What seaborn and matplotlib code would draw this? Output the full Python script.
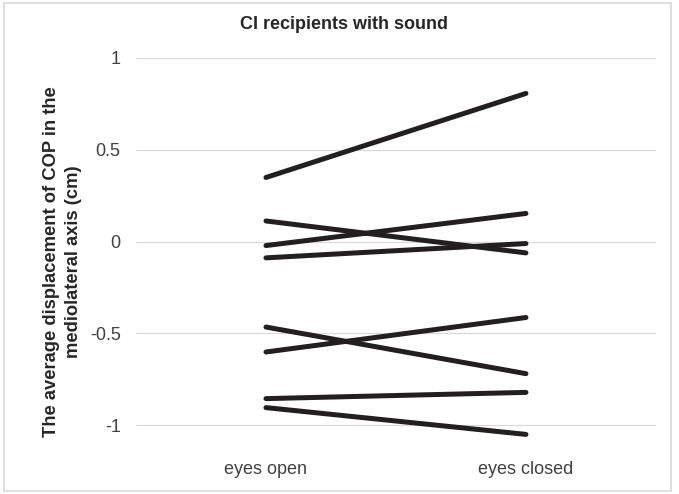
import matplotlib
matplotlib.use('Agg')
import matplotlib.pyplot as plt
import pandas as pd
import seaborn as sns

# values, one row per participant
conditions = ['eyes open', 'eyes closed']
eyes_open = [0.349, 0.112, -0.022, -0.089, -0.466, -0.602, -0.856, -0.905]
eyes_closed = [0.807, -0.062, 0.153, -0.011, -0.720, -0.414, -0.822, -1.051]
yticks = [-1, -0.5, 0, 0.5, 1]
ytick_labels = ['-1', '-0.5', '0', '0.5', '1']

df = pd.DataFrame({
    'subject': list(range(len(eyes_open))) * 2,
    'condition': [conditions[0]] * len(eyes_open) + [conditions[1]] * len(eyes_closed),
    'cop': eyes_open + eyes_closed,
})

sns.set_theme(style='white')
plt.rcParams['font.family'] = ['Liberation Sans', 'DejaVu Sans']

fig = plt.figure(figsize=(6.79, 4.94), dpi=100)
ax = fig.add_axes([0.2003, 0.095, 0.7657, 0.7876])

sns.lineplot(data=df, x='condition', y='cop', units='subject', estimator=None,
             sort=False, color='#231f20', linewidth=3.6, ax=ax,
             solid_capstyle='round', legend=False)

ax.set_xlim(-0.5, 1.5)
ax.set_ylim(-1.12, 1.0)
ax.set_yticks(yticks)
ax.set_yticklabels(ytick_labels)
ax.yaxis.grid(True, color='#d9d9d9', linewidth=0.9)
ax.set_axisbelow(True)
for s in ax.spines.values():
    s.set_visible(False)
ax.tick_params(axis='both', length=0, labelsize=13, colors='#404040')
ax.tick_params(axis='y', pad=11)
ax.tick_params(axis='x', pad=10)
ax.set_xlabel('')
ax.set_ylabel('The average displacement of COP in the\nmediolateral axis (cm)',
              fontsize=13.2, fontweight='bold', color='#262626', linespacing=1.4)
ax.yaxis.set_label_coords(-0.103, 0.476)

fig.text(0.506, 0.951, 'CI recipients with sound', ha='center', va='center',
         fontsize=13, fontweight='bold', color='#262626')

# light frame around the whole chart
fig.patches.append(plt.Rectangle((0.006, 0.006), 0.982, 0.988, transform=fig.transFigure,
                                 fill=False, edgecolor='#d9d9d9', linewidth=1.2))

fig.savefig('out.png', dpi=100, facecolor='white')
